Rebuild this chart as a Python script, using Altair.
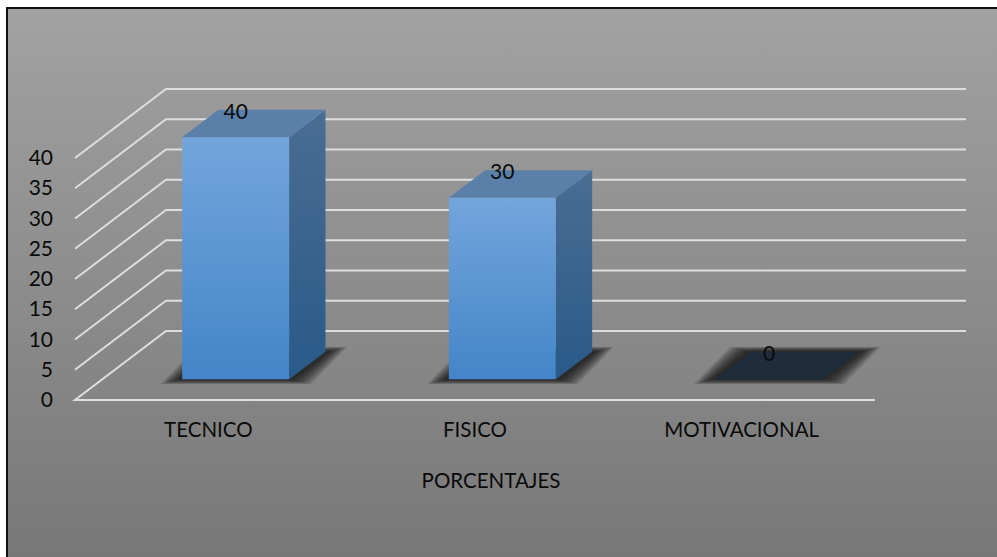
import altair as alt
import pandas as pd

# Chart data
categories = ["TECNICO", "FISICO", "MOTIVACIONAL"]
values = [40, 30, 0]
tick_values = [0, 5, 10, 15, 20, 25, 30, 35, 40]
axis_title = "PORCENTAJES"

# Oblique projection: slots along x, value along y, depth z in 0..1
W, H = 997, 557
X0, SLOT = 75.0, 266.67
Y0, UNIT = 400.0, 6.05
DEPTH_X = 91.0 / SLOT
DEPTH_Y = 69.0 / UNIT
BAR_W = 0.401
Z_FRONT, Z_BACK = 0.30, 0.70
FONT = "Lato"

x_scale = alt.Scale(domain=[-X0 / SLOT, (W - X0) / SLOT], range=[0, W], nice=False, zero=False)
y_scale = alt.Scale(domain=[(Y0 - H) / UNIT, Y0 / UNIT], range=[H, 0], nice=False, zero=False)


def px(s, z=0.0):
    return s + z * DEPTH_X


def py(v, z=0.0):
    return v + z * DEPTH_Y


def X(field="x"):
    return alt.X(f"{field}:Q", scale=x_scale, axis=None, title=None)


def Y(field="y"):
    return alt.Y(f"{field}:Q", scale=y_scale, axis=None, title=None, stack=None)


def vgrad(top, bottom):
    return alt.Gradient(
        gradient="linear", x1=0, x2=0, y1=0, y2=1,
        stops=[alt.GradientStop(color=top, offset=0), alt.GradientStop(color=bottom, offset=1)],
    )


# Panel background and its frame; the right and bottom edges run off the canvas
background = (
    alt.Chart(pd.DataFrame({"k": [0]}))
    .mark_rect(color=vgrad("#a2a2a2", "#777777"), stroke="#111111", strokeWidth=2, clip=True)
    .encode(x=alt.value(7), x2=alt.value(W + 10), y=alt.value(8), y2=alt.value(H + 10))
)

# Gridlines: along the side wall, then along the back wall
grid_rows = []
n = len(categories)
for t in tick_values:
    path = [(0, 0), (0, 1), (n, 1)]
    if t == 0:
        path = [(n, 0)] + path
    for i, (s, z) in enumerate(path):
        grid_rows.append({"tick": t, "o": i, "x": px(s, z), "y": py(t, z)})
grid = (
    alt.Chart(pd.DataFrame(grid_rows))
    .mark_line(color="#dedede", strokeWidth=2)
    .encode(x=X(), y=Y(), detail="tick:N", order="o:Q")
)

# Bar geometry, one row per face corner; the floor shadow is a stack of faint, shrinking outlines
front_rows, side_rows, top_rows, shadow_rows = [], [], [], []
shadow_steps = [(22 - 1.5 * k, 5.0 - 0.4 * k) for k in range(13)]
for i, (c, v) in enumerate(zip(categories, values)):
    left = i + 0.5 - BAR_W / 2
    right = left + BAR_W
    if v > 0:
        front_rows.append({"c": c, "x": px(left, Z_FRONT), "x2": px(right, Z_FRONT),
                           "y": py(v, Z_FRONT), "y2": py(0, Z_FRONT)})
        for z in (Z_FRONT, Z_BACK):
            side_rows.append({"c": c, "x": px(right, z), "y": py(v, z), "y2": py(0, z)})
    fill = "#5a7fa9" if v > 0 else "#1f2c3c"
    for z in (Z_FRONT, Z_BACK):
        top_rows.append({"c": c, "fill": fill, "x": px(left, z), "x2": px(right, z), "y": py(v, z)})
    for step, (grow_x, grow_y) in enumerate(shadow_steps):
        gx, gy = grow_x / SLOT, grow_y / UNIT
        for z, dy in ((Z_FRONT, -gy), (Z_BACK, gy)):
            shadow_rows.append({"id": f"{c}-{step}", "x": px(left, z) - gx, "x2": px(right, z) + gx,
                                "y": py(0, z) + dy})

shadow = (
    alt.Chart(pd.DataFrame(shadow_rows))
    .mark_area(orient="horizontal", color="#101010", opacity=0.09)
    .encode(x=X(), x2="x2:Q", y=Y(), detail="id:N")
)
side = (
    alt.Chart(pd.DataFrame(side_rows))
    .mark_area(color=vgrad("#4a6d93", "#295a89"))
    .encode(x=X(), y=Y(), y2="y2:Q", detail="c:N")
)
top = (
    alt.Chart(pd.DataFrame(top_rows))
    .mark_area(orient="horizontal")
    .encode(x=X(), x2="x2:Q", y=Y(), detail="c:N", color=alt.Color("fill:N", scale=None))
)
front = (
    alt.Chart(pd.DataFrame(front_rows))
    .mark_rect(color=vgrad("#74a5dc", "#4385c8"))
    .encode(x=X(), x2="x2:Q", y=Y(), y2="y2:Q")
)

# Value labels above each bar
label_df = pd.DataFrame([
    {"x": px(i + 0.5, Z_FRONT), "y": py(v, 0.675), "t": str(v)} for i, v in enumerate(values)
])
value_labels = (
    alt.Chart(label_df)
    .mark_text(font=FONT, fontSize=21, color="#0a0a0a", align="center", baseline="middle", dy=1.5)
    .encode(x=X(), y=Y(), text="t:N")
)

# Axis tick labels, category labels and axis title
tick_df = pd.DataFrame({"y": tick_values, "t": [str(t) for t in tick_values]})
tick_labels = (
    alt.Chart(tick_df)
    .mark_text(font=FONT, fontSize=21, color="#0a0a0a", align="right", baseline="middle", dx=-22, dy=1)
    .encode(x=alt.datum(0, scale=x_scale, axis=None), y=Y(), text="t:N")
)
cat_df = pd.DataFrame({"x": [i + 0.5 for i in range(n)], "t": categories})
cat_labels = (
    alt.Chart(cat_df)
    .mark_text(font=FONT, fontSize=20.5, color="#0a0a0a", align="center", baseline="middle", dy=30.5)
    .encode(x=X(), y=alt.datum(0, scale=y_scale, axis=None), text="t:N")
)
title_mark = (
    alt.Chart(pd.DataFrame({"x": [n / 2], "t": [axis_title]}))
    .mark_text(font=FONT, fontSize=20.5, color="#0a0a0a", align="center", baseline="middle", dx=16, dy=81.5)
    .encode(x=X(), y=alt.datum(0, scale=y_scale, axis=None), text="t:N")
)

chart = (
    alt.layer(background, grid, shadow, side, top, front, value_labels, tick_labels, cat_labels, title_mark)
    .properties(width=W, height=H, padding=0, background="white",
                autosize=alt.AutoSizeParams(type="none"))
    .configure_view(stroke=None)
)

chart.save("out.html", embed_options={"renderer": "svg", "actions": False})
